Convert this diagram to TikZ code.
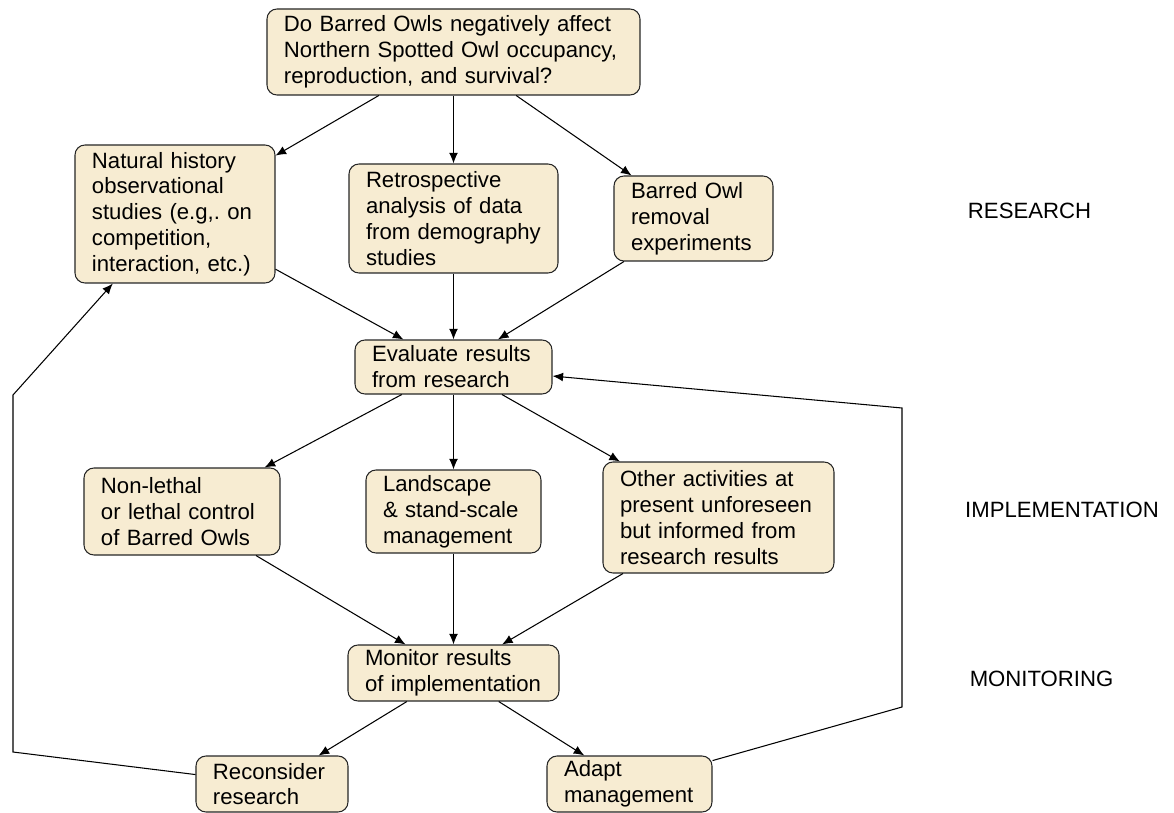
\documentclass[tikz,border=0pt]{standalone}
\usepackage{fontspec}
\setmainfont{Liberation Sans}
\usetikzlibrary{arrows.meta,positioning}
\definecolor{owlfill}{RGB}{247,236,210}
\begin{document}
\begin{tikzpicture}[>={Latex[length=6pt,width=5pt]},line width=0.6pt,on grid,
	box/.style={draw=black!85,fill=owlfill,rounded corners=0.2cm,align=left,inner xsep=0.34cm,inner ysep=0cm,font=\fontsize{12.6}{14.7}\selectfont\frenchspacing,execute at begin node={\hyphenpenalty=10000\relax}},
	stage/.style={font=\fontsize{12.6}{14.7}\selectfont}]

\useasboundingbox (-9.07,1.04) rectangle (14.41,-15.22);

\node[box,text width=6.78cm,minimum height=1.72cm]   (ask)      				{Do Barred Owls negatively affect\\Northern Spotted Owl occupancy,\\reproduction, and survival?};
\node[box,text width=3.50cm,minimum height=2.18cm]   (retro)[below=3.33cm of ask]      				{Retrospective\\analysis of data\\from demography\\studies};
\node[box,text width=3.32cm,minimum height=2.76cm]   (nat)[above left=0.09cm and 5.57cm of retro]      				{Natural history\\observational\\studies (e.g,. on\\competition,\\interaction, etc.)};
\node[box,text width=2.50cm,minimum height=1.70cm]   (barred)[right=4.8cm of retro]      				{Barred Owl\\removal\\experiments};
\node[box,text width=3.26cm,minimum height=1.08cm]   (eval)[below=2.97cm of retro]      				{Evaluate results\\from research};
\node[box,text width=2.82cm,minimum height=1.66cm]   (land)[below=2.89cm of eval]      				{Landscape\\\& stand-scale\\management};
\node[box,text width=3.24cm,minimum height=1.74cm]   (control)[left=5.43cm of land]      				{Non-lethal\\or lethal control\\of Barred Owls};
\node[box,text width=3.94cm,minimum height=2.22cm]   (other)[below right=0.12cm and 5.3cm of land]      				{Other activities at\\present unforeseen\\but informed from\\research results};
\node[box,text width=3.54cm,minimum height=1.12cm]   (monitor)[below=3.23cm of land]      				{Monitor results\\of implementation};
\node[box,text width=2.36cm,minimum height=1.12cm]   (recon)[below left=2.22cm and 3.63cm of monitor]      				{Reconsider\\research};
\node[box,text width=2.62cm,minimum height=1.12cm]   (adapt)[below right=2.22cm and 3.52cm of monitor]      				{Adapt\\management};

\node[stage]   (research)[above right=0.15cm and 6.72cm of barred]      				{RESEARCH};
\node[stage]   (implement)[above right=0.15cm and 6.87cm of other]      				{IMPLEMENTATION};
\node[stage]   (monitoring)[below right=0.12cm and 11.76cm of monitor]      				{MONITORING};

\coordinate (lb) at (-8.81,-14.0);
\coordinate (lt) at (-8.81,-6.86);
\coordinate (rb) at (8.97,-13.1);
\coordinate (rt) at (8.97,-7.12);

	\path[->] (ask)  edge	  	(nat)
						edge	  	(retro)
						edge	  	(barred)
						(nat)  edge	  	(eval)
						(retro)  edge	  	(eval)
						(barred)  edge	  	(eval)
						
						(eval)  edge	  	(control)
						edge	  	(land)
						edge	  	(other)
						
						(control)  edge	  	(monitor)
						(land)  edge	  	(monitor)
						(other)  edge	  	(monitor)
						
						(monitor)  edge	  	(recon)
						edge	  	(adapt);

	\draw[->] (recon) -- (lb) -- (lt) -- (nat);
	\draw[->] (adapt) -- (rb) -- (rt) -- (eval);

\end{tikzpicture}
\end{document}
